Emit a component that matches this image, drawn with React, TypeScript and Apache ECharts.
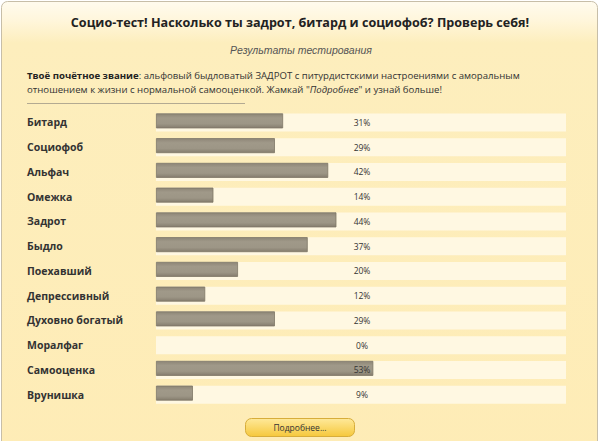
import React, { useEffect, useRef } from "react";
import * as echarts from "echarts";

const categories = [
  "Битард",
  "Социофоб",
  "Альфач",
  "Омежка",
  "Задрот",
  "Быдло",
  "Поехавший",
  "Депрессивный",
  "Духовно богатый",
  "Моралфаг",
  "Самооценка",
  "Врунишка",
];
const values = [31, 29, 42, 14, 44, 37, 20, 12, 29, 0, 53, 9];
const maxValue = 100;
const titleText = "Социо-тест! Насколько ты задрот, битард и социофоб? Проверь себя!";
const subtitleText = "Результаты тестирования";
const buttonText = "Подробнее...";

export default function App() {
  const ref = useRef<HTMLDivElement>(null);
  useEffect(() => {
    if (!ref.current) return;
    const chart = echarts.init(ref.current, null, { renderer: "svg" });
    const font = "'Open Sans', 'Noto Sans', sans-serif";
    chart.setOption({
      animation: false,
      backgroundColor: "#ffffff",
      grid: { left: 156, right: 34, top: 110, height: 297, containLabel: false },
      xAxis: { type: "value", min: 0, max: maxValue, show: false },
      yAxis: {
        type: "category",
        data: categories,
        inverse: true,
        axisLine: { show: false },
        axisTick: { show: false },
        splitLine: { show: false },
        axisLabel: {
          align: "left",
          margin: 129,
          fontFamily: font,
          fontWeight: "bold",
          fontSize: 10.5,
          color: "#333333",
        },
      },
      graphic: [
        {
          type: "rect",
          z: -10,
          silent: true,
          shape: { x: 1.5, y: 1.5, width: 596, height: 460, r: 6 },
          style: {
            fill: new echarts.graphic.LinearGradient(0, 0, 0, 1, [
              { offset: 0, color: "#fffbee" },
              { offset: 0.04, color: "#fff6dc" },
              { offset: 0.09, color: "#fdeebd" },
              { offset: 1, color: "#feecb6" },
            ]),
            stroke: "#c7bea8",
            lineWidth: 1,
          },
        },
        {
          type: "text",
          x: 300,
          y: 22,
          style: {
            text: titleText,
            fontFamily: font,
            fontWeight: "bold",
            fontSize: 12.6,
            fill: "#222222",
            textAlign: "center",
            textVerticalAlign: "middle",
          },
        },
        {
          type: "text",
          x: 301,
          y: 50,
          style: {
            text: subtitleText,
            fontFamily: "'Liberation Sans', Arial, sans-serif",
            fontStyle: "italic",
            fontSize: 10.5,
            fill: "#555555",
            textAlign: "center",
            textVerticalAlign: "middle",
          },
        },
        {
          type: "text",
          x: 27,
          y: 75,
          style: {
            text: "{b|Твоё почётное звание}: альфовый быдловатый ЗАДРОТ с питурдистскими настроениями с аморальным",
            fontFamily: font,
            fontSize: 9.6,
            fill: "#333333",
            textVerticalAlign: "middle",
            rich: {
              b: { fontFamily: font, fontSize: 9.6, fontWeight: "bold", fill: "#222222" },
            },
          },
        },
        {
          type: "text",
          x: 27,
          y: 89,
          style: {
            text: "отношением к жизни с нормальной самооценкой. Жамкай \"{i|Подробнее}\" и узнай больше!",
            fontFamily: font,
            fontSize: 9.6,
            fill: "#333333",
            textVerticalAlign: "middle",
            rich: {
              i: { fontFamily: font, fontSize: 9.6, fontStyle: "italic", fill: "#333333" },
            },
          },
        },
        {
          type: "line",
          shape: { x1: 27, y1: 103.5, x2: 245, y2: 103.5 },
          style: { stroke: "#b3aa92", lineWidth: 1 },
        },
        {
          type: "rect",
          shape: { x: 245.5, y: 418.5, width: 109, height: 18, r: 6 },
          style: {
            fill: new echarts.graphic.LinearGradient(0, 0, 0, 1, [
              { offset: 0, color: "#fee99a" },
              { offset: 1, color: "#f6c83c" },
            ]),
            stroke: "#d7ad3a",
            lineWidth: 1,
          },
        },
        {
          type: "text",
          x: 300,
          y: 427.5,
          style: {
            text: buttonText,
            fontFamily: font,
            fontSize: 8.5,
            fill: "#333333",
            textAlign: "center",
            textVerticalAlign: "middle",
          },
        },
      ],
      series: [
        {
          type: "bar",
          data: categories.map(() => maxValue),
          barWidth: 18,
          silent: true,
          itemStyle: { color: "#fff8e2", borderWidth: 0 },
          z: 1,
        },
        {
          type: "bar",
          data: values.map((v) =>
            v === 0 ? { value: v, itemStyle: { borderWidth: 0, opacity: 0 } } : v
          ),
          barWidth: 15,
          barGap: "-100%",
          z: 2,
          itemStyle: {
            color: new echarts.graphic.LinearGradient(0, 0, 0, 1, [
              { offset: 0, color: "#8e8677" },
              { offset: 0.3, color: "#a09989" },
              { offset: 0.7, color: "#9d9686" },
              { offset: 1, color: "#857d6e" },
            ]),
            borderColor: "#7e7666",
            borderWidth: 0.8,
          },
        },
        {
          type: "bar",
          data: categories.map(() => maxValue),
          barWidth: 18,
          barGap: "-100%",
          z: 3,
          silent: true,
          itemStyle: { color: "rgba(0,0,0,0)" },
          label: {
            show: true,
            position: "inside",
            formatter: (p: any) => values[p.dataIndex] + "%",
            fontFamily: font,
            fontSize: 8.5,
            color: "#333333",
            offset: [1, 0],
          },
        },
      ],
    });
    return () => chart.dispose();
  }, []);
  return (
    <div
      ref={ref}
      style={{ position: "fixed", left: 0, top: 0, width: 600, height: 441 }}
    />
  );
}
